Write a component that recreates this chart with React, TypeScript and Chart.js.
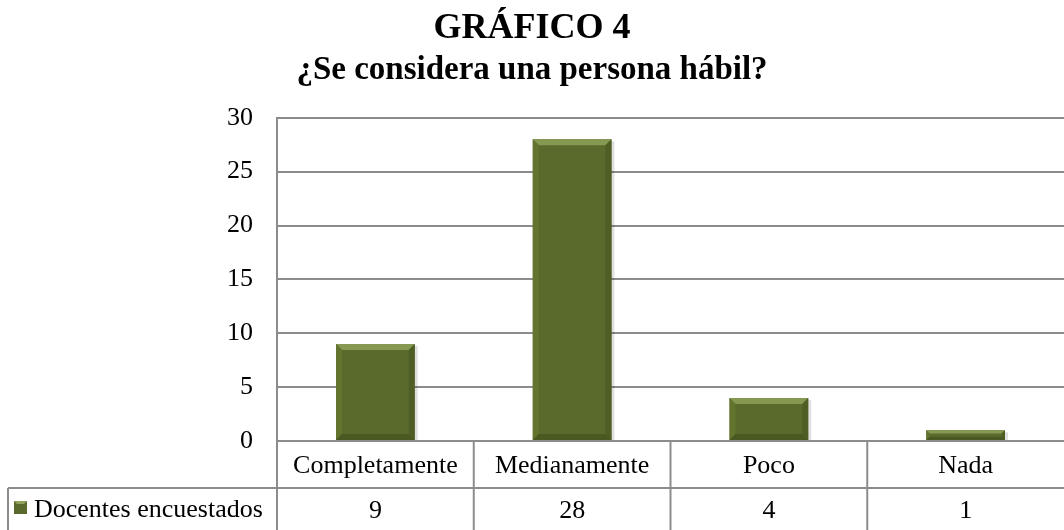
import React, { useEffect, useRef } from "react";
import { Chart, registerables } from "chart.js";

Chart.register(...registerables);

const titleText = "GRÁFICO 4";
const subtitleText = "¿Se considera una persona hábil?";
const categories = ["Completamente", "Medianamente", "Poco", "Nada"];
const seriesName = "Docentes encuestados";
const values = [9, 28, 4, 1];
const yMin = 0;
const yMax = 30;
const yStep = 5;

const FONT = "'Liberation Serif', 'Times New Roman', serif";
const GRID = "#8c8c8c";
const BAR = "#5a6a2c";

const tablePlugin = {
  id: "dataTable",
  afterDraw(chart: any) {
    const ctx = chart.ctx;
    const area = chart.chartArea;
    const xs = chart.scales.x;
    const n = categories.length;
    const top = area.bottom;
    const rowH = 47;
    const row2 = top + rowH;
    const bottom = chart.height;
    const tableLeft = 8;
    ctx.save();
    ctx.strokeStyle = GRID;
    ctx.lineWidth = 2;
    ctx.beginPath();
    ctx.moveTo(area.left, area.top);
    ctx.lineTo(area.left, bottom);
    ctx.stroke();
    ctx.beginPath();
    ctx.moveTo(tableLeft, row2);
    ctx.lineTo(chart.width, row2);
    ctx.stroke();
    ctx.beginPath();
    ctx.moveTo(tableLeft, row2);
    ctx.lineTo(tableLeft, bottom);
    ctx.stroke();
    for (let i = 1; i < n; i++) {
      const bx = (xs.getPixelForValue(i - 1) + xs.getPixelForValue(i)) / 2;
      ctx.beginPath();
      ctx.moveTo(bx, top);
      ctx.lineTo(bx, bottom);
      ctx.stroke();
    }
    ctx.fillStyle = "#000";
    ctx.font = `26px ${FONT}`;
    ctx.textAlign = "center";
    ctx.textBaseline = "middle";
    for (let i = 0; i < n; i++) {
      const cx = xs.getPixelForValue(i);
      ctx.fillText(categories[i], cx, top + 25);
      ctx.fillText(String(values[i]), cx, row2 + 23);
    }
    const sx = 14, sy = 501, ss = 13;
    ctx.fillStyle = BAR;
    ctx.fillRect(sx, sy, ss, ss);
    ctx.fillStyle = "#8fa35c";
    ctx.beginPath();
    ctx.moveTo(sx, sy);
    ctx.lineTo(sx + ss, sy);
    ctx.lineTo(sx + ss - 3, sy + 3);
    ctx.lineTo(sx + 3, sy + 3);
    ctx.closePath();
    ctx.fill();
    ctx.fillStyle = "#000";
    ctx.textAlign = "left";
    ctx.fillText(seriesName, 34, row2 + 22);
    ctx.restore();
  },
};

const bevelPlugin = {
  id: "bevel",
  beforeDatasetsDraw(chart: any) {
    const ctx = chart.ctx;
    const meta = chart.getDatasetMeta(0);
    ctx.save();
    for (const el of meta.data) {
      const { x, y, width, base } = el.getProps(["x", "y", "width", "base"], true);
      const l = x - width / 2;
      ctx.fillStyle = "rgba(0,0,0,0.12)";
      ctx.fillRect(l + 3, y + 2, width, base - y - 2);
    }
    ctx.restore();
  },
  afterDatasetsDraw(chart: any) {
    const ctx = chart.ctx;
    const meta = chart.getDatasetMeta(0);
    ctx.save();
    for (const el of meta.data) {
      const { x, y, width, base } = el.getProps(["x", "y", "width", "base"], true);
      const l = x - width / 2;
      const r = x + width / 2;
      const t = y;
      const btm = base;
      const b = Math.min(6, (btm - t) / 3);
      const quad = (pts: number[][], color: string) => {
        ctx.fillStyle = color;
        ctx.beginPath();
        ctx.moveTo(pts[0][0], pts[0][1]);
        for (let k = 1; k < pts.length; k++) ctx.lineTo(pts[k][0], pts[k][1]);
        ctx.closePath();
        ctx.fill();
      };
      quad([[l, t], [r, t], [r - b, t + b], [l + b, t + b]], "#869952");
      quad([[l, t], [l + b, t + b], [l + b, btm - b], [l, btm]], "#63742f");
      quad([[r, t], [r, btm], [r - b, btm - b], [r - b, t + b]], "#4f5e24");
      quad([[l, btm], [l + b, btm - b], [r - b, btm - b], [r, btm]], "#4a5821");
    }
    ctx.restore();
  },
};

export default function App() {
  const ref = useRef<HTMLCanvasElement>(null);
  useEffect(() => {
    if (!ref.current) return;
    const chart = new Chart(ref.current, {
      type: "bar",
      data: {
        labels: categories,
        datasets: [
          {
            label: seriesName,
            data: values,
            backgroundColor: BAR,
            borderWidth: 0,
            barPercentage: 0.4,
            categoryPercentage: 1,
          },
        ],
      },
      options: {
        responsive: false,
        animation: false,
        layout: { padding: { left: 0, right: 0, top: 0, bottom: 0 } },
        plugins: {
          legend: { display: false },
          tooltip: { enabled: false },
          title: {
            display: true,
            text: titleText,
            color: "#000",
            font: { family: FONT, size: 36, weight: "bold", lineHeight: 1.2 },
            padding: { top: 7, bottom: 0 },
          },
          subtitle: {
            display: true,
            text: subtitleText,
            color: "#000",
            font: { family: FONT, size: 33, weight: "bold", lineHeight: 1.2 },
            padding: { top: 0, bottom: 28 },
          },
        },
        scales: {
          x: {
            ticks: { display: false },
            grid: { display: false, drawTicks: false },
            border: { display: true, color: GRID, width: 2 },
            afterFit(scale: any) {
              scale.height = 89;
            },
          },
          y: {
            min: yMin,
            max: yMax,
            ticks: {
              stepSize: yStep,
              color: "#000",
              font: { family: FONT, size: 26 },
              padding: 24,
            },
            grid: { color: GRID, lineWidth: 2, drawTicks: false },
            border: { display: true, color: GRID, width: 2 },
            afterFit(scale: any) {
              scale.width = 277;
            },
          },
        },
      },
      plugins: [bevelPlugin, tablePlugin],
    });
    return () => chart.destroy();
  }, []);
  return (
    <div style={{ position: "absolute", left: 0, top: 0, width: 1064, height: 530 }}>
      <canvas ref={ref} width={1064} height={530} />
    </div>
  );
}
